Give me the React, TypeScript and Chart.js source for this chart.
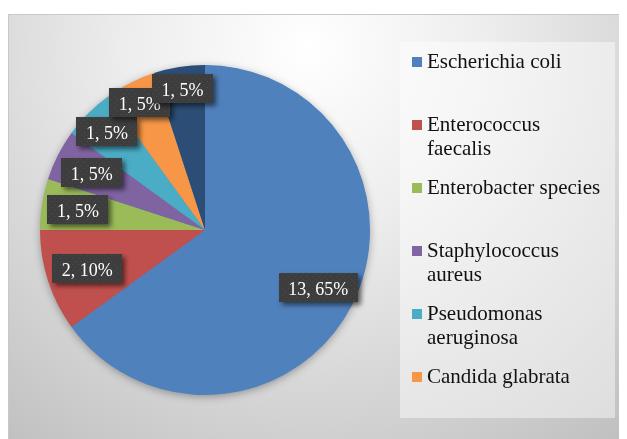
import { useEffect, useRef } from "react";
import { Chart, registerables } from "chart.js";

Chart.register(...registerables);

const categories = [
  "Escherichia coli",
  "Enterococcus faecalis",
  "Enterobacter species",
  "Staphylococcus aureus",
  "Pseudomonas aeruginosa",
  "Candida glabrata",
  "Others",
];
const counts = [13, 2, 1, 1, 1, 1, 1];
const sliceColors = ["#4F81BD", "#C0504D", "#9BBB59", "#8064A2", "#4BACC6", "#F79646", "#2C4D75"];
const labelRadiusFactor = [0.77, 0.75, 0.78, 0.77, 0.84, 0.87, 0.87];

const FONT = '"Liberation Serif", "Times New Roman", serif';
const W = 619;
const H = 431;

function makePattern(ctx: CanvasRenderingContext2D) {
  const c = document.createElement("canvas");
  c.width = 6;
  c.height = 6;
  const p = c.getContext("2d")!;
  p.fillStyle = "#3d3d3d";
  p.fillRect(0, 0, 6, 6);
  p.fillStyle = "#4a4a4a";
  p.fillRect(1, 1, 1, 1);
  p.fillRect(4, 4, 1, 1);
  return ctx.createPattern(c, "repeat") || "#3d3d3d";
}

const bgPlugin = {
  id: "bg",
  beforeDraw(chart: any) {
    const ctx = chart.ctx as CanvasRenderingContext2D;
    ctx.save();
    ctx.fillStyle = "#ffffff";
    ctx.fillRect(0, 0, W, H);
    const g = ctx.createRadialGradient(300, 40, 0, 300, 40, 520);
    g.addColorStop(0, "#ffffff");
    g.addColorStop(0.35, "#ededed");
    g.addColorStop(1, "#bdbdbd");
    ctx.fillStyle = g;
    ctx.fillRect(0, 6, W, H - 6);
    ctx.strokeStyle = "#c8c8c8";
    ctx.lineWidth = 1;
    ctx.beginPath();
    ctx.moveTo(0.5, H);
    ctx.lineTo(0.5, 6.5);
    ctx.lineTo(W, 6.5);
    ctx.stroke();
    ctx.restore();
  },
  beforeDatasetsDraw(chart: any) {
    const meta = chart.getDatasetMeta(0);
    const arc = meta.data[0];
    if (!arc) return;
    const ctx = chart.ctx as CanvasRenderingContext2D;
    ctx.save();
    ctx.shadowColor = "rgba(0,0,0,0.35)";
    ctx.shadowBlur = 8;
    ctx.shadowOffsetX = 0;
    ctx.shadowOffsetY = 2;
    ctx.fillStyle = "#4F81BD";
    ctx.beginPath();
    ctx.arc(arc.x, arc.y, arc.outerRadius - 0.5, 0, Math.PI * 2);
    ctx.fill();
    ctx.restore();
  },
};

const labelPlugin = {
  id: "pieLabels",
  afterDatasetsDraw(chart: any) {
    const ctx = chart.ctx as CanvasRenderingContext2D;
    const meta = chart.getDatasetMeta(0);
    const data = chart.data.datasets[0].data as number[];
    const total = data.reduce((a, b) => a + b, 0);
    const pattern = makePattern(ctx);
    ctx.save();
    ctx.font = `18px ${FONT}`;
    meta.data.forEach((arc: any, i: number) => {
      const mid = (arc.startAngle + arc.endAngle) / 2;
      const r = arc.outerRadius * labelRadiusFactor[i];
      const cx = arc.x + Math.cos(mid) * r;
      const cy = arc.y + Math.sin(mid) * r;
      const text = `${data[i]}, ${Math.round((data[i] / total) * 100)}%`;
      const tw = ctx.measureText(text).width;
      const bw = Math.round(tw + 19);
      const bh = 29;
      const bx = Math.round(cx - bw / 2);
      const by = Math.round(cy - bh / 2);
      ctx.save();
      ctx.shadowColor = "rgba(0,0,0,0.55)";
      ctx.shadowBlur = 5;
      ctx.shadowOffsetX = 3;
      ctx.shadowOffsetY = 3;
      ctx.fillStyle = pattern as any;
      ctx.fillRect(bx, by, bw, bh);
      ctx.restore();
      ctx.fillStyle = "#ffffff";
      ctx.textAlign = "center";
      ctx.textBaseline = "alphabetic";
      ctx.fillText(text, cx, by + 22);
    });
    ctx.restore();
  },
};

function wrap(ctx: CanvasRenderingContext2D, text: string, maxW: number) {
  const words = text.split(" ");
  const lines: string[] = [];
  let cur = "";
  for (const w of words) {
    const test = cur ? cur + " " + w : w;
    if (ctx.measureText(test).width > maxW && cur) {
      lines.push(cur);
      cur = w;
    } else {
      cur = test;
    }
  }
  if (cur) lines.push(cur);
  return lines;
}

const legendPlugin = {
  id: "customLegend",
  afterDraw(chart: any) {
    const ctx = chart.ctx as CanvasRenderingContext2D;
    const labels = chart.data.labels as string[];
    const colors = chart.data.datasets[0].backgroundColor as string[];
    const box = { x: 392, y: 34, w: 215, h: 376 };
    ctx.save();
    ctx.fillStyle = "rgba(255,255,255,0.45)";
    ctx.fillRect(box.x, box.y, box.w, box.h);
    ctx.font = `21px ${FONT}`;
    ctx.textAlign = "left";
    ctx.textBaseline = "alphabetic";
    const slot = 63;
    labels.forEach((lab, i) => {
      const top = box.y + 15 + i * slot;
      if (top + 20 > box.y + box.h) return;
      ctx.fillStyle = colors[i];
      ctx.fillRect(box.x + 12, top, 10, 10);
      ctx.fillStyle = "#111111";
      const lines = wrap(ctx, lab, 180);
      lines.forEach((ln, j) => {
        ctx.fillText(ln, box.x + 27, top + 11 + j * 24);
      });
    });
    ctx.restore();
  },
};

export default function App() {
  const ref = useRef<HTMLCanvasElement | null>(null);
  useEffect(() => {
    let chart: Chart | null = null;
    let cancelled = false;
    const fontsReady = (document as any).fonts
      ? Promise.all([
          (document as any).fonts.load('18px "Liberation Serif"'),
          (document as any).fonts.load('21px "Liberation Serif"'),
        ]).catch(() => null)
      : Promise.resolve(null);
    fontsReady.then(() => {
      if (cancelled || !ref.current) return;
      chart = new Chart(ref.current, {
        type: "pie",
        data: {
          labels: categories,
          datasets: [
            {
              data: counts,
              backgroundColor: sliceColors,
              borderWidth: 0,
              hoverOffset: 0,
            },
          ],
        },
        options: {
          responsive: false,
          animation: false,
          devicePixelRatio: 1,
          layout: { padding: { left: 32, top: 57, right: 257, bottom: 44 } },
          plugins: {
            legend: { display: false },
            tooltip: { enabled: false },
          },
          events: [],
        },
        plugins: [bgPlugin, labelPlugin, legendPlugin],
      });
    });
    return () => {
      cancelled = true;
      if (chart) chart.destroy();
    };
  }, []);
  return (
    <canvas
      ref={ref}
      width={W}
      height={H}
      style={{ display: "block", width: W + "px", height: H + "px" }}
    />
  );
}
